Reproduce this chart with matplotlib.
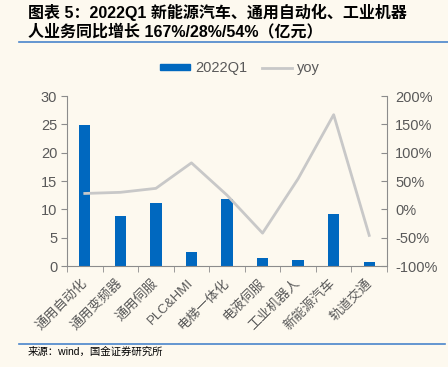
import numpy as np
import matplotlib.pyplot as plt
from matplotlib.lines import Line2D
from matplotlib.patches import Patch

plt.rcParams['font.family'] = ['Liberation Sans', 'Noto Sans CJK SC']

categories = ['通用自动化', '通用变频器', '通用伺服', 'PLC&HMI', '电梯一体化',
              '电液伺服', '工业机器人', '新能源汽车', '轨道交通']
revenue = [24.8, 8.8, 11.1, 2.4, 11.8, 1.35, 1.1, 9.2, 0.7]
yoy = [28, 30, 37, 82, 25, -42, 54, 167, -46]

bg = '#fdf9ef'
blue = '#0068bf'
gray = '#c8c8c8'
axc = '#8c8c8c'
txt = '#595959'

fig = plt.figure(figsize=(4.48, 3.67), dpi=100, facecolor=bg)
ax = fig.add_axes([67 / 448, 1 - 266 / 367, 320 / 448, 170 / 367])
ax.set_facecolor(bg)

x = np.arange(len(categories))
ax.bar(x, revenue, width=0.32, color=blue, zorder=2)
ax.set_xlim(-0.5, len(categories) - 0.5)
ax.set_ylim(0, 30)
ax.set_yticks(range(0, 31, 5))
ax.set_xticks(x)
ax.set_xticklabels(categories, rotation=45, ha='right', va='center',
                   rotation_mode='anchor', fontsize=9.5, color=txt)
ax.set_xticks(np.arange(-0.5, len(categories), 1), minor=True)
ax.tick_params(axis='x', which='major', length=0, pad=11)
ax.tick_params(axis='x', which='minor', length=4, color=axc, direction='out')
ax.tick_params(axis='y', length=4, color=axc, labelcolor=txt, labelsize=10.5, pad=3)
for s in ['top', 'right']:
    ax.spines[s].set_visible(False)
for s in ['left', 'bottom']:
    ax.spines[s].set_color(axc)

ax2 = ax.twinx()
ax2.plot(x, yoy, color=gray, lw=2, zorder=3)
ax2.set_ylim(-100, 200)
ax2.set_yticks(range(-100, 201, 50))
ax2.set_yticklabels([f'{v}%' for v in range(-100, 201, 50)])
ax2.tick_params(axis='y', length=4, color=axc, labelcolor=txt, labelsize=10.5,
                direction='in', pad=6)
for s in ['top', 'left', 'bottom']:
    ax2.spines[s].set_visible(False)
ax2.spines['right'].set_color(axc)

handles = [Patch(color=blue), Line2D([0], [0], color=gray, lw=2)]
fig.legend(handles, ['2022Q1', 'yoy'], loc='center', bbox_to_anchor=(240 / 448, 1 - 68 / 367),
           ncol=2, frameon=False, fontsize=10.5, labelcolor=txt, handlelength=2.05,
           handleheight=0.3, columnspacing=1.0, handletextpad=0.35)

fig.text(28 / 448, 1 - 12 / 367, '图表 5：2022Q1 新能源汽车、通用自动化、工业机器',
         fontsize=11.5, fontweight='bold', va='center', ha='left')
fig.text(28 / 448, 1 - 31 / 367, '人业务同比增长 167%/28%/54%（亿元）',
         fontsize=11.5, fontweight='bold', va='center', ha='left')
fig.add_artist(Line2D([19 / 448, 1], [1 - 42 / 367, 1 - 42 / 367], color='#4a85cc', lw=1.2))
fig.add_artist(Line2D([19 / 448, 445 / 448], [1 - 344 / 367, 1 - 344 / 367], color='#4a85cc', lw=1.2))
fig.text(28 / 448, 1 - 352 / 367, '来源：wind，国金证券研究所', fontsize=7.5, va='center', ha='left')

fig.savefig('out.png', dpi=100, facecolor=bg)
